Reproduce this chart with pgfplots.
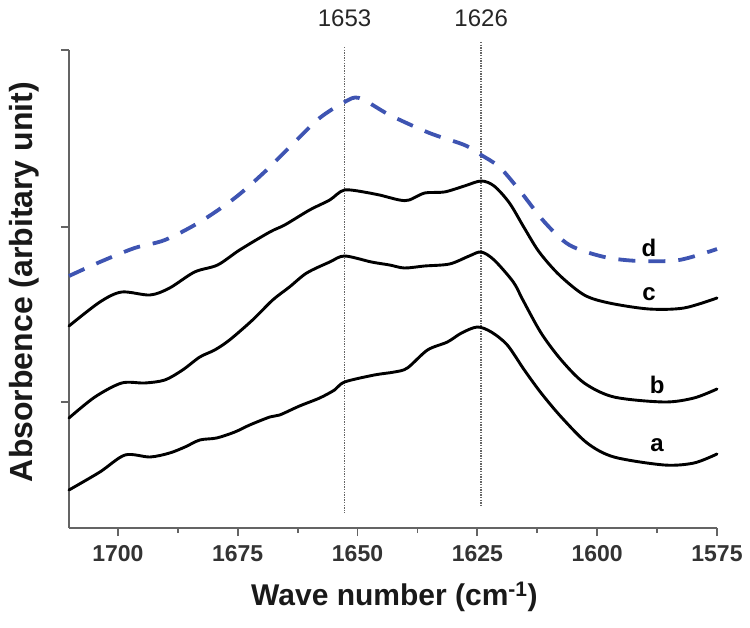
\documentclass[border=0pt]{standalone}
\usepackage{fontspec}
\setmainfont{Liberation Sans}
\usepackage{pgfplots}
\pgfplotsset{compat=1.18}
\definecolor{dblue}{RGB}{62,84,178}
\definecolor{axgray}{RGB}{100,100,100}
\begin{document}
\begin{tikzpicture}
\begin{axis}[name=ax, scale only axis, width=648pt, height=478pt,
  x dir=reverse, xmin=1575, xmax=1710.2, ymin=0, ymax=478,
  axis x line*=bottom, axis y line*=left,
  axis line style={-, axgray, line width=2.2pt},
  xtick={1700,1675,1650,1625,1600,1575},
  minor xtick={1687.5,1662.5,1637.5,1612.5,1587.5},
  ytick={126,301,478}, yticklabels={},
  tick align=outside, major tick length=8pt, minor tick length=5pt,
  tick style={axgray, line width=1.8pt},
  ticklabel style={font=\fontsize{23}{27}\selectfont\bfseries, text=black!80},
  xticklabel style={yshift=-6pt},
  /pgf/number format/assume math mode=true,
  /pgf/number format/1000 sep={},
  clip=false,
  every axis plot/.append style={line join=round, line cap=round},
]
% reference lines
\addplot[black!60, dash pattern=on 1.4pt off 1.2pt, line width=1.8pt, line cap=butt] coordinates {(1652.7,481) (1652.7,15)};
\addplot[black!60, dash pattern=on 1.4pt off 1.2pt, line width=1.8pt, line cap=butt] coordinates {(1624.2,486) (1624.2,21)};
% d
\addplot[dblue, line width=3.8pt, dash pattern=on 17pt off 13pt, line cap=butt, smooth, tension=0.5] coordinates {
(1710.2,252) (1703.75,266) (1696.5,280) (1690.2,288) (1682.9,306) (1675.6,330)
(1669.4,356) (1663.1,386) (1657.9,410) (1652.7,426) (1649.6,430) (1643.3,413)
(1635,395) (1627.7,383) (1624.2,373) (1620.4,361) (1616.25,338) (1611.0,306)
(1605.8,283) (1598.5,271) (1591.25,267) (1582.9,268) (1575,279)};
% c
\addplot[black, line width=2.9pt, smooth, tension=0.5] coordinates {
(1710.2,202) (1703.75,226) (1699.2,236) (1693.3,233) (1689.2,240) (1684.0,256)
(1679.2,263) (1674.6,278) (1668.3,296) (1665.2,303) (1660,318) (1655.8,328)
(1652.7,338) (1647.5,335) (1645.4,333) (1641.25,328) (1639.2,328) (1636.0,335)
(1631.9,336) (1627.7,342) (1624.2,347) (1621.5,342) (1618.3,325) (1615.2,300)
(1612.1,276) (1607.9,253) (1602.7,233) (1597.5,225) (1589.2,219) (1581.9,220) (1575,230)};
% b
\addplot[black, line width=2.9pt, smooth, tension=0.5] coordinates {
(1710.2,110) (1704.8,131) (1699.2,145) (1694.4,145) (1690.2,148) (1686.5,158)
(1682.9,171) (1679.8,178) (1676.7,188) (1671.9,208) (1667.7,228) (1664.2,241)
(1660.6,255) (1655.8,266) (1652.7,272) (1647.1,266) (1643.3,263) (1640.2,260)
(1636.0,262) (1630.8,264) (1626.7,272) (1624.2,276) (1621.5,268) (1617.5,246)
(1615.5,228) (1611.7,195) (1607.5,168) (1602.7,145) (1596.5,131) (1586.0,126)
(1579.8,130) (1575,139)};
% a
\addplot[black, line width=2.9pt, smooth, tension=0.5] coordinates {
(1710.2,38) (1703.75,56) (1698.5,73) (1693.3,71) (1689.2,75) (1686.0,81)
(1682.9,88) (1679.4,90) (1675.6,96) (1672.5,103) (1668.3,111) (1666.25,113)
(1662.1,122) (1657.9,130) (1654.8,138) (1652.7,146) (1646.5,153) (1642.3,156)
(1639.6,160) (1635.4,178) (1631.25,186) (1628.3,195) (1625,201) (1622.1,196)
(1618.75,183) (1615.2,158) (1611.7,135) (1607.5,111) (1602.1,85) (1596.5,71)
(1586.0,63) (1579.8,65) (1575,74)};
% curve labels
\node[font=\fontsize{24}{27}\selectfont\bfseries] at (axis cs:1589.2,280) {d};
\node[font=\fontsize{24}{27}\selectfont\bfseries] at (axis cs:1589.2,234) {c};
\node[font=\fontsize{24}{27}\selectfont\bfseries] at (axis cs:1587.5,143) {b};
\node[font=\fontsize{24}{27}\selectfont\bfseries] at (axis cs:1587.5,83) {a};
% reference line labels
\node[font=\fontsize{24}{28}\selectfont, text=black!85] at (axis cs:1652.7,510) {1653};
\node[font=\fontsize{24}{28}\selectfont, text=black!85] at (axis cs:1624.2,510) {1626};
% axis labels
\node[rotate=90, font=\fontsize{32}{36}\selectfont\bfseries, text=black!90] at (axis cs:1719.6,246) {Absorbence (arbitary unit)};
\node[font=\fontsize{30}{34}\selectfont\bfseries, text=black!90] at (axis cs:1642.3,-69) {Wave number (cm\textsuperscript{-1})};
\end{axis}
\pgfresetboundingbox
\path[use as bounding box] ([shift={(-69pt,-99pt)}]ax.south west) rectangle ([shift={(33pt,50pt)}]ax.north east);
\end{tikzpicture}
\end{document}
